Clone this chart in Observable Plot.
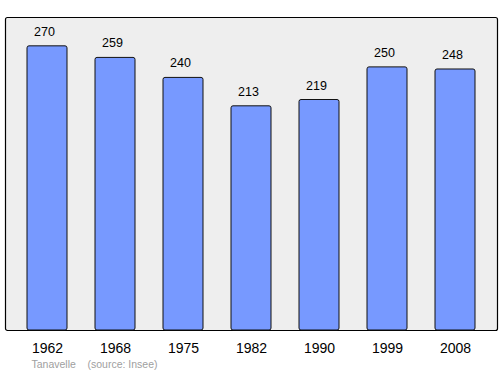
<!DOCTYPE html>
<html>
<head>
<meta charset="utf-8">
<script src="https://cdn.jsdelivr.net/npm/d3@7"></script>
<script src="https://cdn.jsdelivr.net/npm/@observablehq/plot@0.6"></script>
<style>
  body { margin: 0; background: #fff; }
  svg { display: block; }
</style>
</head>
<body>
<div id="chart"></div>
<script>
const years = ["1962", "1968", "1975", "1982", "1990", "1999", "2008"];
const population = [270, 259, 240, 213, 219, 250, 248];
const commune = "Tanavelle";
const source = "(source: Insee)";

const data = years.map((y, i) => ({year: y, value: population[i]}));
const font = "Liberation Sans, Arial, sans-serif";

const chart = Plot.plot({
  width: 500,
  height: 374,
  marginLeft: 5,
  marginRight: 3,
  marginTop: 17,
  marginBottom: 44,
  style: {fontFamily: font, background: "#fff"},
  x: {domain: years, paddingInner: 0.415, paddingOuter: 0.3075, label: null},
  y: {domain: [0, 297.4], axis: null},
  marks: [
    Plot.frame({fill: "#eeeeee", stroke: "#000", strokeWidth: 1.2, rx: 2}),
    Plot.barY(data, {x: "year", y: "value", fill: "#7799ff", stroke: "#111", strokeWidth: 1, rx: 2}),
    Plot.text(data, {x: "year", y: "value", text: d => String(d.value), lineAnchor: "bottom", dx: -3, dy: -10.5, fontSize: 12.5, fill: "#000"}),
    Plot.axisX({tickSize: 0, tickPadding: 13, fontSize: 14, fill: "#000", label: null}),
    Plot.text([commune], {frameAnchor: "bottom-left", dx: 26, dy: 37, textAnchor: "start", lineAnchor: "bottom", fontSize: 10.5, fill: "#a0a0a0"}),
    Plot.text([source], {frameAnchor: "bottom-left", dx: 82, dy: 37, textAnchor: "start", lineAnchor: "bottom", fontSize: 10.5, fill: "#a0a0a0"})
  ]
});
document.getElementById("chart").append(chart);
</script>
</body>
</html>
